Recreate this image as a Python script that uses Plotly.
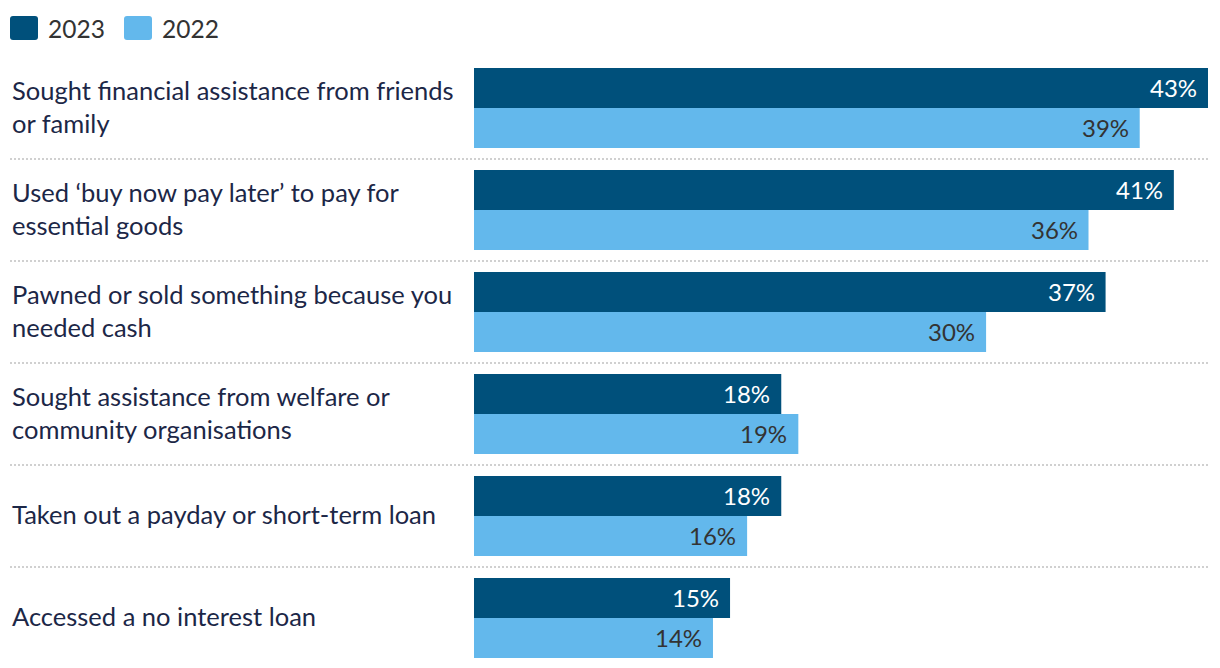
import plotly.graph_objects as go

categories = [
    "Sought financial assistance from friends<br>or family",
    "Used ‘buy now pay later’ to pay for<br>essential goods",
    "Pawned or sold something because you<br>needed cash",
    "Sought assistance from welfare or<br>community organisations",
    "Taken out a payday or short-term loan",
    "Accessed a no interest loan",
]
values_2023 = [43, 41, 37, 18, 18, 15]
values_2022 = [39, 36, 30, 19, 16, 14]
series_names = ["2023", "2022"]

W, H = 1220, 668
DARK = "#00507B"
LIGHT = "#63B8EC"
FONT = "Lato"
LABEL_COLOR = "#1C2747"

idx = list(range(len(categories)))

# pixel geometry of the plot
x0_px, x1_px = 474, 1208
first_center_px, pitch_px = 108, 102
bar_px = 40

fig = go.Figure()
fig.add_trace(go.Bar(y=idx, x=values_2023, orientation="h", name=series_names[0],
                     marker=dict(color=DARK, line=dict(width=0)), showlegend=False,
                     hoverinfo="x+name"))
fig.add_trace(go.Bar(y=idx, x=values_2022, orientation="h", name=series_names[1],
                     marker=dict(color=LIGHT, line=dict(width=0)), showlegend=False,
                     hoverinfo="x+name"))

y_top = -first_center_px / pitch_px
y_bot = (H - first_center_px) / pitch_px
off = (bar_px / 2) / pitch_px

annotations = []
shapes = []
for k, cat in enumerate(categories):
    annotations.append(dict(x=10 / W, xref="paper", y=k, yref="y", text=cat,
                            xanchor="left", yanchor="middle", align="left",
                            yshift=2, showarrow=False,
                            font=dict(family=FONT, size=25.5, color=LABEL_COLOR)))
    annotations.append(dict(x=values_2023[k], xref="x", y=k - off, yref="y",
                            text=f"{values_2023[k]}%", xanchor="right", yanchor="middle",
                            xshift=-9, yshift=1, showarrow=False,
                            font=dict(family=FONT, size=24, color="#FFFFFF")))
    annotations.append(dict(x=values_2022[k], xref="x", y=k + off, yref="y",
                            text=f"{values_2022[k]}%", xanchor="right", yanchor="middle",
                            xshift=-9, yshift=1, showarrow=False,
                            font=dict(family=FONT, size=24, color="#333333")))
    if k < len(categories) - 1:
        shapes.append(dict(type="line", xref="paper", yref="y",
                           x0=10 / W, x1=x1_px / W, y0=k + 0.5, y1=k + 0.5,
                           line=dict(color="#D0D0D0", width=2, dash="2px,2px")))

# legend
def rrect(px0, py0, px1, py1, r=3):
    x0, x1 = px0 / W, px1 / W
    y0, y1 = 1 - py0 / H, 1 - py1 / H
    rx, ry = r / W, r / H
    return (f"M{x0+rx},{y0} L{x1-rx},{y0} Q{x1},{y0} {x1},{y0-ry} "
            f"L{x1},{y1+ry} Q{x1},{y1} {x1-rx},{y1} L{x0+rx},{y1} "
            f"Q{x0},{y1} {x0},{y1+ry} L{x0},{y0-ry} Q{x0},{y0} {x0+rx},{y0} Z")

legend_items = [(series_names[0], DARK, 10), (series_names[1], LIGHT, 124)]
for name, col, lx in legend_items:
    shapes.append(dict(type="path", xref="paper", yref="paper",
                       path=rrect(lx, 16, lx + 28, 40), fillcolor=col,
                       line=dict(width=0)))
    annotations.append(dict(x=(lx + 36) / W, xref="paper", y=1 - 28 / H, yref="paper",
                            text=name, xanchor="left", yanchor="middle", showarrow=False,
                            font=dict(family=FONT, size=24.5, color="#333333")))

fig.update_layout(
    width=W, height=H,
    margin=dict(l=0, r=0, t=0, b=0),
    paper_bgcolor="white", plot_bgcolor="white",
    barmode="group", bargap=(pitch_px - 2 * bar_px) / pitch_px, bargroupgap=0,
    xaxis=dict(domain=[x0_px / W, x1_px / W], range=[0, 43], visible=False,
               fixedrange=True),
    yaxis=dict(range=[y_bot, y_top], visible=False, fixedrange=True),
    annotations=annotations, shapes=shapes,
    font=dict(family=FONT),
)

fig.write_html("out.html")
